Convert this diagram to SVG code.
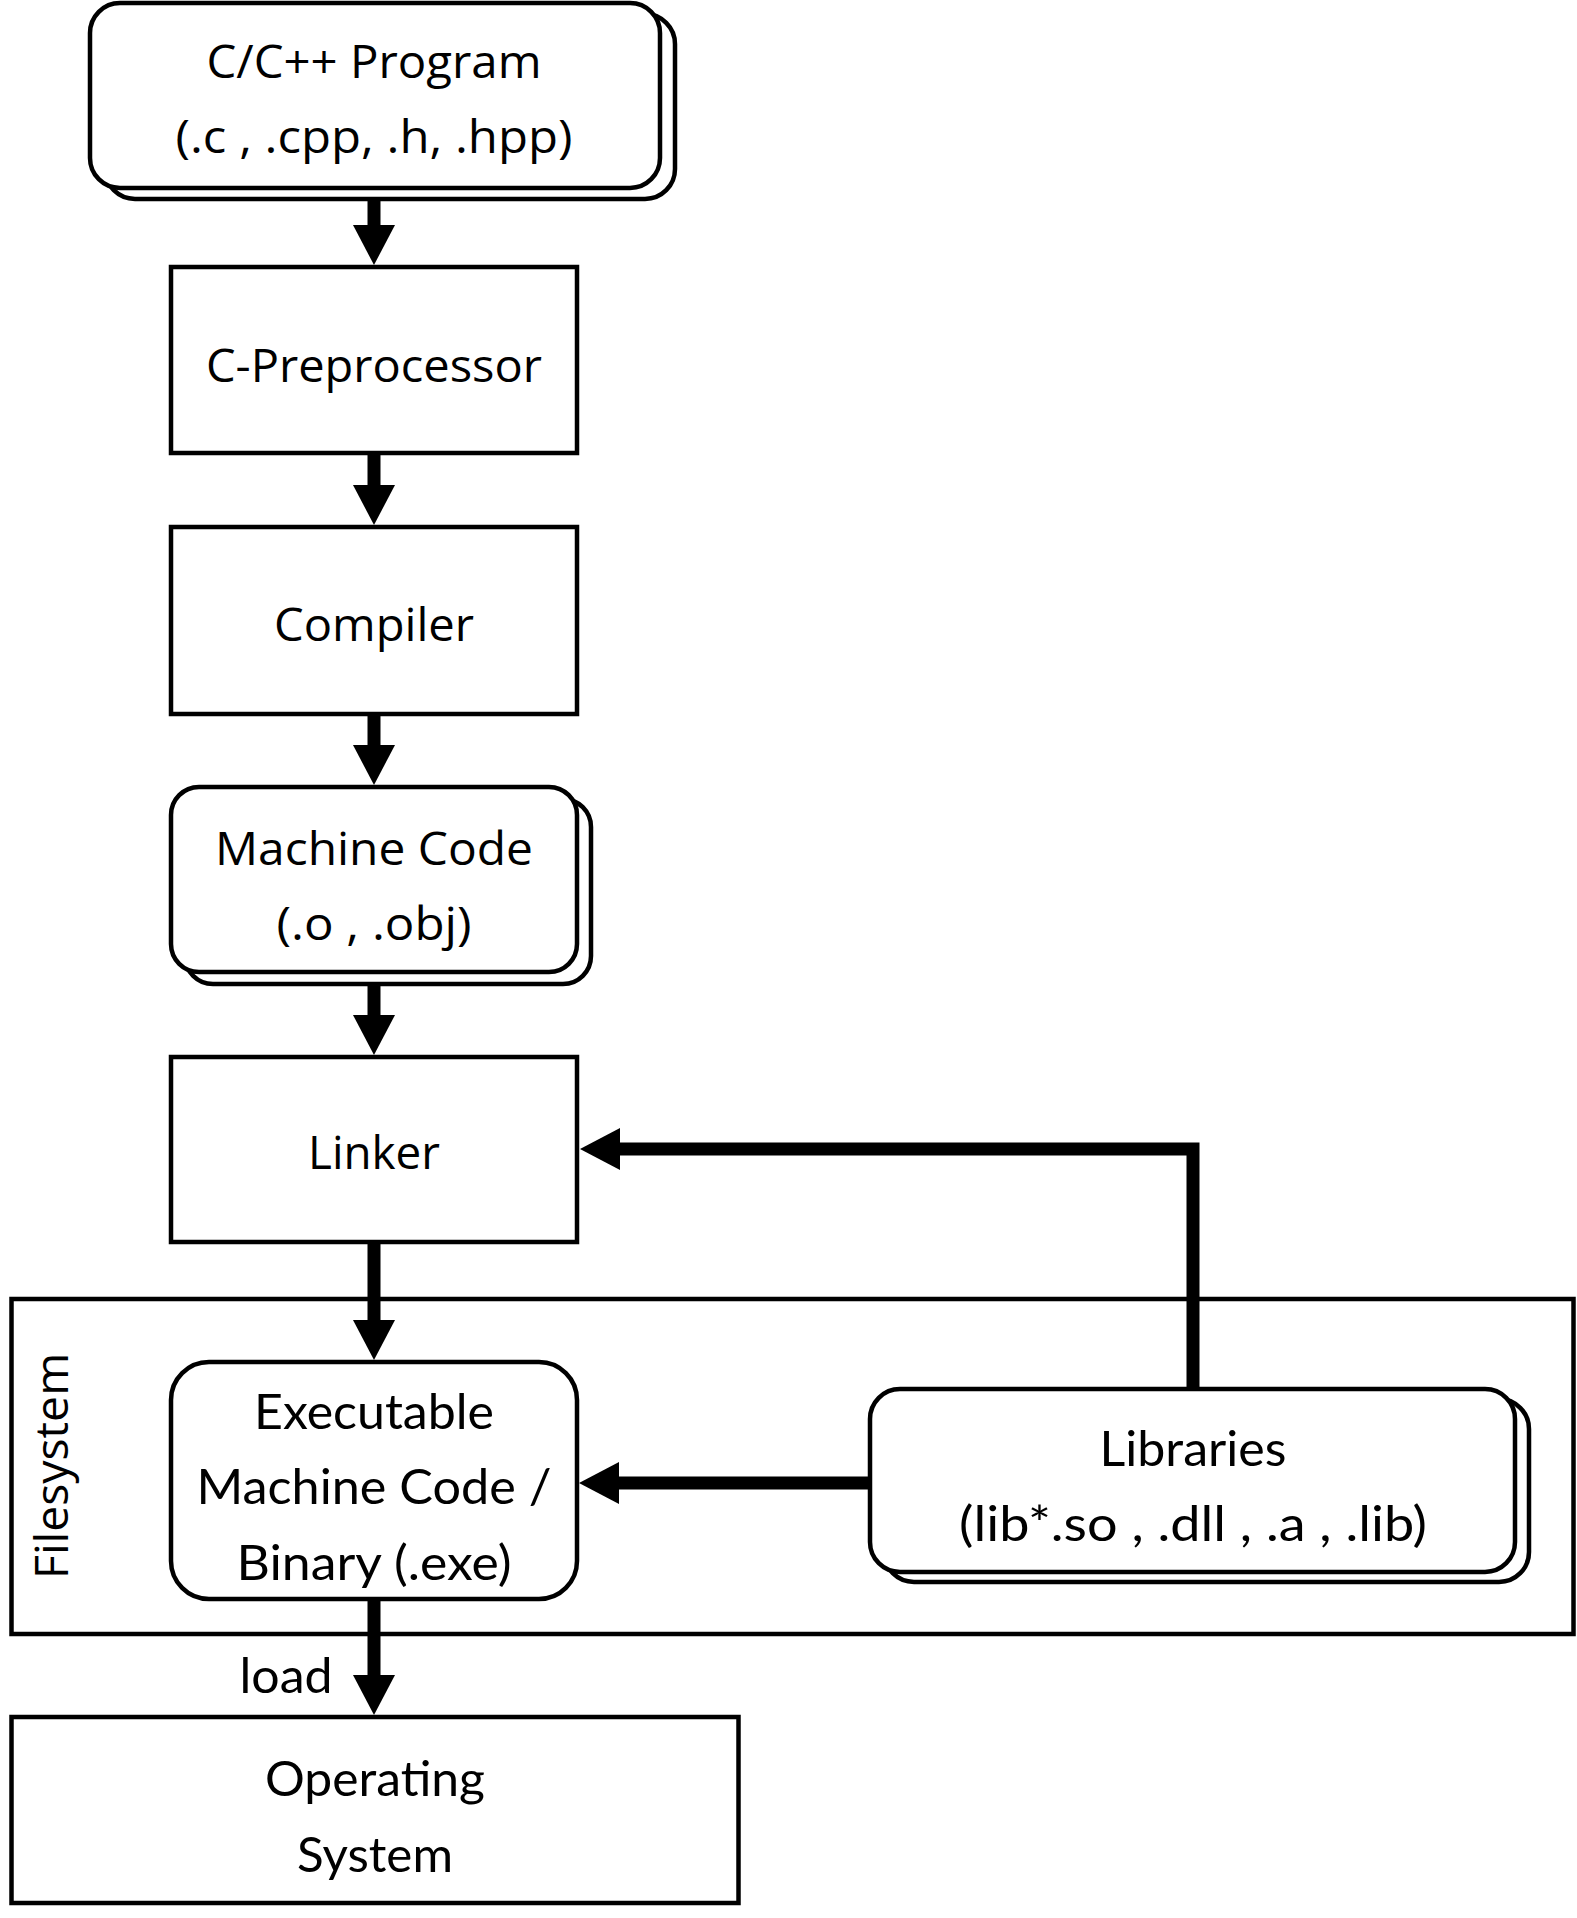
<svg xmlns="http://www.w3.org/2000/svg" width="1577" height="1918" viewBox="0 0 1577 1918">
<style>
.box{fill:#fff;stroke:#000;stroke-width:4.5}
.frame{fill:none;stroke:#000;stroke-width:4.5}
.conn{fill:none;stroke:#000;stroke-width:13;stroke-linejoin:miter;stroke-linecap:butt}
.t1{font-family:"Open Sans","DejaVu Sans",sans-serif;font-size:46px;fill:#000;text-anchor:middle}
.t2{font-family:Lato,"Liberation Sans",sans-serif;font-size:48px;fill:#000;text-anchor:middle}
</style>
<defs>
<marker id="ah" markerUnits="userSpaceOnUse" markerWidth="41" markerHeight="42" refX="0" refY="21" orient="auto" overflow="visible">
<path d="M0,0 L40,21 L0,42 Z" fill="#000"/>
</marker>
</defs>
<rect width="1577" height="1918" fill="#fff"/>
<g id="filesystem">
<rect class="frame" x="11.5" y="1299" width="1562" height="335"/>
<text class="t1" transform="translate(68,1466) rotate(-90)" textLength="226" lengthAdjust="spacingAndGlyphs">Filesystem</text>
</g>
<g id="connectors">
<line class="conn" x1="374" y1="189" x2="374" y2="225" marker-end="url(#ah)"/>
<line class="conn" x1="374" y1="454" x2="374" y2="485" marker-end="url(#ah)"/>
<line class="conn" x1="374" y1="715" x2="374" y2="745" marker-end="url(#ah)"/>
<line class="conn" x1="374" y1="974" x2="374" y2="1015" marker-end="url(#ah)"/>
<line class="conn" x1="374" y1="1243" x2="374" y2="1320" marker-end="url(#ah)"/>
<polyline class="conn" points="1193,1389 1193,1149 620,1149" marker-end="url(#ah)"/>
<line class="conn" x1="870" y1="1483" x2="619" y2="1483" marker-end="url(#ah)"/>
<line class="conn" x1="374" y1="1600" x2="374" y2="1675" marker-end="url(#ah)"/>
<text class="t2" x="286" y="1693" textLength="93" lengthAdjust="spacingAndGlyphs">load</text>
</g>
<g id="program">
<rect class="box" x="105" y="14" width="570" height="185" rx="30"/>
<rect class="box" x="90" y="3" width="570" height="185" rx="30"/>
<text class="t1" x="374" y="78" textLength="335" lengthAdjust="spacingAndGlyphs">C/C++ Program</text>
<text class="t1" x="374" y="153" textLength="397" lengthAdjust="spacingAndGlyphs">(.c , .cpp, .h, .hpp)</text>
</g>
<g id="preprocessor">
<rect class="box" x="171" y="267" width="406" height="186"/>
<text class="t1" x="374" y="382" textLength="336" lengthAdjust="spacingAndGlyphs">C-Preprocessor</text>
</g>
<g id="compiler">
<rect class="box" x="171" y="527" width="406" height="187"/>
<text class="t1" x="374" y="641" textLength="200" lengthAdjust="spacingAndGlyphs">Compiler</text>
</g>
<g id="machine-code">
<rect class="box" x="185" y="799" width="406" height="185" rx="28"/>
<rect class="box" x="171" y="787" width="406" height="185" rx="28"/>
<text class="t1" x="374" y="865" textLength="318" lengthAdjust="spacingAndGlyphs">Machine Code</text>
<text class="t1" x="374" y="940" textLength="195" lengthAdjust="spacingAndGlyphs">(.o , .obj)</text>
</g>
<g id="linker">
<rect class="box" x="171" y="1057" width="406" height="185"/>
<text class="t1" x="374" y="1169" textLength="132" lengthAdjust="spacingAndGlyphs">Linker</text>
</g>
<g id="executable">
<rect class="box" x="171" y="1362" width="406" height="237" rx="38"/>
<text class="t2" x="374" y="1429" textLength="240" lengthAdjust="spacingAndGlyphs">Executable</text>
<text class="t2" x="374" y="1504" textLength="355" lengthAdjust="spacingAndGlyphs">Machine Code /</text>
<text class="t2" x="374" y="1580" textLength="275" lengthAdjust="spacingAndGlyphs">Binary (.exe)</text>
</g>
<g id="libraries">
<rect class="box" x="884" y="1399" width="645" height="183" rx="30"/>
<rect class="box" x="870" y="1389" width="645" height="183" rx="30"/>
<text class="t2" x="1193" y="1466" textLength="187" lengthAdjust="spacingAndGlyphs">Libraries</text>
<text class="t2" x="1193" y="1541" textLength="468" lengthAdjust="spacingAndGlyphs">(lib*.so , .dll , .a , .lib)</text>
</g>
<g id="os">
<rect class="box" x="11.5" y="1717" width="727" height="186"/>
<text class="t2" x="375" y="1796" textLength="220" lengthAdjust="spacingAndGlyphs">Operating</text>
<text class="t2" x="375" y="1872" textLength="156" lengthAdjust="spacingAndGlyphs">System</text>
</g>
</svg>
